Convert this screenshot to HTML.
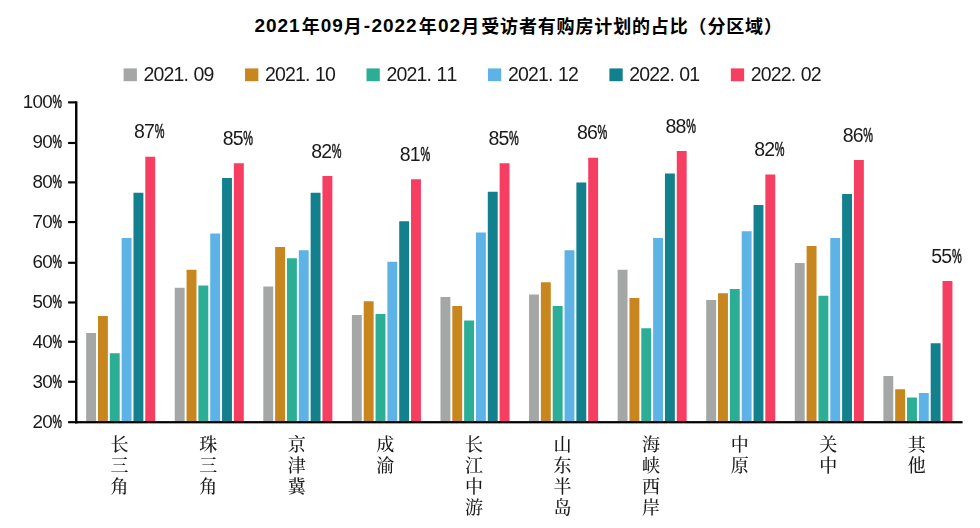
<!DOCTYPE html>
<html lang="zh-CN">
<head>
<meta charset="utf-8">
<title>2021年09月-2022年02月受访者有购房计划的占比（分区域）</title>
<style>
html,body{margin:0;padding:0;background:#fff;}
body{width:980px;height:528px;overflow:hidden;}
svg{display:block;}
.n{font-family:"Liberation Sans", sans-serif;font-size:19.5px;fill:#1a1a1a;text-anchor:middle;}
.p{stroke:#1a1a1a;stroke-width:0.6px;}
.k{font-family:"Liberation Serif", "Noto Serif CJK SC", serif;font-size:18px;font-weight:500;fill:#1a1a1a;text-anchor:middle;}
.t{font-family:"Liberation Sans", "Noto Sans CJK SC", sans-serif;font-weight:bold;fill:#000;}
.ta{font-size:19px;}
.tc{font-size:18px;}
</style>
</head>
<body>
<svg width="980" height="528" viewBox="0 0 980 528">
<rect width="980" height="528" fill="#fff"/>
<text class="t" text-anchor="middle"><tspan class="ta" y="31.7" x="259.7 271.2 282.7 294.2">2021</tspan><tspan class="tc" y="32.7" x="310.7">年</tspan><tspan class="ta" y="31.7" x="326 337.5">09</tspan><tspan class="tc" y="32.7" x="352.85">月</tspan><tspan class="ta" y="31.7" x="367 376.8 388.3 399.8 411.3">-2022</tspan><tspan class="tc" y="32.7" x="427.85">年</tspan><tspan class="ta" y="31.7" x="443.2 454.7">02</tspan><tspan class="tc" y="32.7" x="470.35 490.2 509.05 527.9 546.75 565.6 584.45 603.3 622.15 641 659.85 678.7 697.55 716.4 735.25 754.1 772.95">月受访者有购房计划的占比（分区域）</tspan></text>
<rect x="123.6" y="68.4" width="13.3" height="12.8" fill="#A5A7A6"/>
<rect x="245.05" y="68.4" width="13.3" height="12.8" fill="#C8861E"/>
<rect x="366.5" y="68.4" width="13.3" height="12.8" fill="#2BAE95"/>
<rect x="487.95" y="68.4" width="13.3" height="12.8" fill="#5DB3E6"/>
<rect x="609.4" y="68.4" width="13.3" height="12.8" fill="#13808E"/>
<rect x="730.85" y="68.4" width="13.3" height="12.8" fill="#F53E62"/>
<rect x="86.15" y="333" width="9.9" height="88.5" fill="#A5A7A6"/>
<rect x="97.98" y="316" width="9.9" height="105.5" fill="#C8861E"/>
<rect x="109.81" y="353.25" width="9.9" height="68.25" fill="#2BAE95"/>
<rect x="121.64" y="238" width="9.9" height="183.5" fill="#5DB3E6"/>
<rect x="133.47" y="192.75" width="9.9" height="228.75" fill="#13808E"/>
<rect x="145.3" y="156.75" width="9.9" height="264.75" fill="#F53E62"/>
<rect x="174.73" y="287.75" width="9.9" height="133.75" fill="#A5A7A6"/>
<rect x="186.56" y="269.75" width="9.9" height="151.75" fill="#C8861E"/>
<rect x="198.39" y="285.5" width="9.9" height="136" fill="#2BAE95"/>
<rect x="210.22" y="233.5" width="9.9" height="188" fill="#5DB3E6"/>
<rect x="222.05" y="178" width="9.9" height="243.5" fill="#13808E"/>
<rect x="233.88" y="163.25" width="9.9" height="258.25" fill="#F53E62"/>
<rect x="263.31" y="286.5" width="9.9" height="135" fill="#A5A7A6"/>
<rect x="275.14" y="247" width="9.9" height="174.5" fill="#C8861E"/>
<rect x="286.97" y="258.25" width="9.9" height="163.25" fill="#2BAE95"/>
<rect x="298.8" y="250.25" width="9.9" height="171.25" fill="#5DB3E6"/>
<rect x="310.63" y="192.75" width="9.9" height="228.75" fill="#13808E"/>
<rect x="322.46" y="176" width="9.9" height="245.5" fill="#F53E62"/>
<rect x="351.89" y="315" width="9.9" height="106.5" fill="#A5A7A6"/>
<rect x="363.72" y="301.25" width="9.9" height="120.25" fill="#C8861E"/>
<rect x="375.55" y="314" width="9.9" height="107.5" fill="#2BAE95"/>
<rect x="387.38" y="261.75" width="9.9" height="159.75" fill="#5DB3E6"/>
<rect x="399.21" y="221.25" width="9.9" height="200.25" fill="#13808E"/>
<rect x="411.04" y="179.25" width="9.9" height="242.25" fill="#F53E62"/>
<rect x="440.47" y="297" width="9.9" height="124.5" fill="#A5A7A6"/>
<rect x="452.3" y="306" width="9.9" height="115.5" fill="#C8861E"/>
<rect x="464.13" y="320.5" width="9.9" height="101" fill="#2BAE95"/>
<rect x="475.96" y="232.5" width="9.9" height="189" fill="#5DB3E6"/>
<rect x="487.79" y="191.75" width="9.9" height="229.75" fill="#13808E"/>
<rect x="499.62" y="163.25" width="9.9" height="258.25" fill="#F53E62"/>
<rect x="529.05" y="294.5" width="9.9" height="127" fill="#A5A7A6"/>
<rect x="540.88" y="282.25" width="9.9" height="139.25" fill="#C8861E"/>
<rect x="552.71" y="306" width="9.9" height="115.5" fill="#2BAE95"/>
<rect x="564.54" y="250.25" width="9.9" height="171.25" fill="#5DB3E6"/>
<rect x="576.37" y="182.5" width="9.9" height="239" fill="#13808E"/>
<rect x="588.2" y="157.75" width="9.9" height="263.75" fill="#F53E62"/>
<rect x="617.63" y="269.75" width="9.9" height="151.75" fill="#A5A7A6"/>
<rect x="629.46" y="298" width="9.9" height="123.5" fill="#C8861E"/>
<rect x="641.29" y="328.25" width="9.9" height="93.25" fill="#2BAE95"/>
<rect x="653.12" y="238" width="9.9" height="183.5" fill="#5DB3E6"/>
<rect x="664.95" y="173.5" width="9.9" height="248" fill="#13808E"/>
<rect x="676.78" y="151" width="9.9" height="270.5" fill="#F53E62"/>
<rect x="706.21" y="300" width="9.9" height="121.5" fill="#A5A7A6"/>
<rect x="718.04" y="293.25" width="9.9" height="128.25" fill="#C8861E"/>
<rect x="729.87" y="289" width="9.9" height="132.5" fill="#2BAE95"/>
<rect x="741.7" y="231.25" width="9.9" height="190.25" fill="#5DB3E6"/>
<rect x="753.53" y="205" width="9.9" height="216.5" fill="#13808E"/>
<rect x="765.36" y="174.5" width="9.9" height="247" fill="#F53E62"/>
<rect x="794.79" y="263" width="9.9" height="158.5" fill="#A5A7A6"/>
<rect x="806.62" y="246" width="9.9" height="175.5" fill="#C8861E"/>
<rect x="818.45" y="295.75" width="9.9" height="125.75" fill="#2BAE95"/>
<rect x="830.28" y="238" width="9.9" height="183.5" fill="#5DB3E6"/>
<rect x="842.11" y="194" width="9.9" height="227.5" fill="#13808E"/>
<rect x="853.94" y="160" width="9.9" height="261.5" fill="#F53E62"/>
<rect x="883.37" y="376" width="9.9" height="45.5" fill="#A5A7A6"/>
<rect x="895.2" y="389.25" width="9.9" height="32.25" fill="#C8861E"/>
<rect x="907.03" y="397.5" width="9.9" height="24" fill="#2BAE95"/>
<rect x="918.86" y="393" width="9.9" height="28.5" fill="#5DB3E6"/>
<rect x="930.69" y="343.25" width="9.9" height="78.25" fill="#13808E"/>
<rect x="942.52" y="281" width="9.9" height="140.5" fill="#F53E62"/>
<rect x="75.05" y="101.3" width="2.4" height="322.1" fill="#000"/>
<rect x="75.05" y="421.1" width="887.5" height="2.25" fill="#000"/>
<rect x="68.1" y="101.3" width="8" height="2.15" fill="#000"/>
<rect x="68.1" y="141.9" width="8" height="2.15" fill="#000"/>
<rect x="68.1" y="181.3" width="8" height="2.15" fill="#000"/>
<rect x="68.1" y="221" width="8" height="2.15" fill="#000"/>
<rect x="68.1" y="261.7" width="8" height="2.15" fill="#000"/>
<rect x="68.1" y="301.4" width="8" height="2.15" fill="#000"/>
<rect x="68.1" y="340.7" width="8" height="2.15" fill="#000"/>
<rect x="68.1" y="380.7" width="8" height="2.15" fill="#000"/>
<rect x="68.1" y="421.1" width="8" height="2.15" fill="#000"/>
<defs><mask id="mk" maskUnits="userSpaceOnUse" x="0" y="0" width="980" height="528"><rect width="980" height="528" fill="#fff"/></mask></defs>
<g mask="url(#mk)">
<text class="n" y="81.4" x="149 159 169 179 186.3 199 209">2021.09</text>
<text class="n" y="81.4" x="270.45 280.45 290.45 300.45 307.75 320.45 330.45">2021.10</text>
<text class="n" y="81.4" x="391.9 401.9 411.9 421.9 429.2 441.9 451.9">2021.11</text>
<text class="n" y="81.4" x="513.35 523.35 533.35 543.35 550.65 563.35 573.35">2021.12</text>
<text class="n" y="81.4" x="634.8 644.8 654.8 664.8 672.1 684.8 694.8">2022.01</text>
<text class="n" y="81.4" x="756.25 766.25 776.25 786.25 793.55 806.25 816.25">2022.02</text>
<text class="n" style="font-size:18.8px" y="108.15"><tspan x="27.9 37.7 47.5">100</tspan><tspan class="p" x="57.3" textLength="9.36" lengthAdjust="spacingAndGlyphs">%</tspan></text>
<text class="n" style="font-size:18.8px" y="148.15"><tspan x="37.7 47.5">90</tspan><tspan class="p" x="57.3" textLength="9.36" lengthAdjust="spacingAndGlyphs">%</tspan></text>
<text class="n" style="font-size:18.8px" y="188.15"><tspan x="37.7 47.5">80</tspan><tspan class="p" x="57.3" textLength="9.36" lengthAdjust="spacingAndGlyphs">%</tspan></text>
<text class="n" style="font-size:18.8px" y="228.15"><tspan x="37.7 47.5">70</tspan><tspan class="p" x="57.3" textLength="9.36" lengthAdjust="spacingAndGlyphs">%</tspan></text>
<text class="n" style="font-size:18.8px" y="268.15"><tspan x="37.7 47.5">60</tspan><tspan class="p" x="57.3" textLength="9.36" lengthAdjust="spacingAndGlyphs">%</tspan></text>
<text class="n" style="font-size:18.8px" y="308.15"><tspan x="37.7 47.5">50</tspan><tspan class="p" x="57.3" textLength="9.36" lengthAdjust="spacingAndGlyphs">%</tspan></text>
<text class="n" style="font-size:18.8px" y="348.15"><tspan x="37.7 47.5">40</tspan><tspan class="p" x="57.3" textLength="9.36" lengthAdjust="spacingAndGlyphs">%</tspan></text>
<text class="n" style="font-size:18.8px" y="388.15"><tspan x="37.7 47.5">30</tspan><tspan class="p" x="57.3" textLength="9.36" lengthAdjust="spacingAndGlyphs">%</tspan></text>
<text class="n" style="font-size:18.8px" y="428.15"><tspan x="37.7 47.5">20</tspan><tspan class="p" x="57.3" textLength="9.36" lengthAdjust="spacingAndGlyphs">%</tspan></text>
<text class="n" y="138.25"><tspan x="139.55 149.55">87</tspan><tspan class="p" x="159.55" textLength="9.71" lengthAdjust="spacingAndGlyphs">%</tspan></text>
<text class="n" y="144.75"><tspan x="228.13 238.13">85</tspan><tspan class="p" x="248.13" textLength="9.71" lengthAdjust="spacingAndGlyphs">%</tspan></text>
<text class="n" y="157.5"><tspan x="316.71 326.71">82</tspan><tspan class="p" x="336.71" textLength="9.71" lengthAdjust="spacingAndGlyphs">%</tspan></text>
<text class="n" y="160.75"><tspan x="405.29 415.29">81</tspan><tspan class="p" x="425.29" textLength="9.71" lengthAdjust="spacingAndGlyphs">%</tspan></text>
<text class="n" y="144.75"><tspan x="493.87 503.87">85</tspan><tspan class="p" x="513.87" textLength="9.71" lengthAdjust="spacingAndGlyphs">%</tspan></text>
<text class="n" y="139.25"><tspan x="582.45 592.45">86</tspan><tspan class="p" x="602.45" textLength="9.71" lengthAdjust="spacingAndGlyphs">%</tspan></text>
<text class="n" y="132.5"><tspan x="671.03 681.03">88</tspan><tspan class="p" x="691.03" textLength="9.71" lengthAdjust="spacingAndGlyphs">%</tspan></text>
<text class="n" y="156"><tspan x="759.61 769.61">82</tspan><tspan class="p" x="779.61" textLength="9.71" lengthAdjust="spacingAndGlyphs">%</tspan></text>
<text class="n" y="141.5"><tspan x="848.19 858.19">86</tspan><tspan class="p" x="868.19" textLength="9.71" lengthAdjust="spacingAndGlyphs">%</tspan></text>
<text class="n" y="262.5"><tspan x="936.77 946.77">55</tspan><tspan class="p" x="956.77" textLength="9.71" lengthAdjust="spacingAndGlyphs">%</tspan></text>
<text class="k" x="119.59 119.59 119.59" y="451.3 472.1 492.9">长三角</text>
<text class="k" x="208.17 208.17 208.17" y="451.3 472.1 492.9">珠三角</text>
<text class="k" x="296.75 296.75 296.75" y="451.3 472.1 492.9">京津冀</text>
<text class="k" x="385.33 385.33" y="451.3 472.1">成渝</text>
<text class="k" x="473.91 473.91 473.91 473.91" y="451.3 472.1 492.9 513.7">长江中游</text>
<text class="k" x="562.49 562.49 562.49 562.49" y="451.3 472.1 492.9 513.7">山东半岛</text>
<text class="k" x="651.07 651.07 651.07 651.07" y="451.3 472.1 492.9 513.7">海峡西岸</text>
<text class="k" x="739.65 739.65" y="451.3 472.1">中原</text>
<text class="k" x="828.23 828.23" y="451.3 472.1">关中</text>
<text class="k" x="916.81 916.81" y="451.3 472.1">其他</text>
</g>
</svg>
</body>
</html>
